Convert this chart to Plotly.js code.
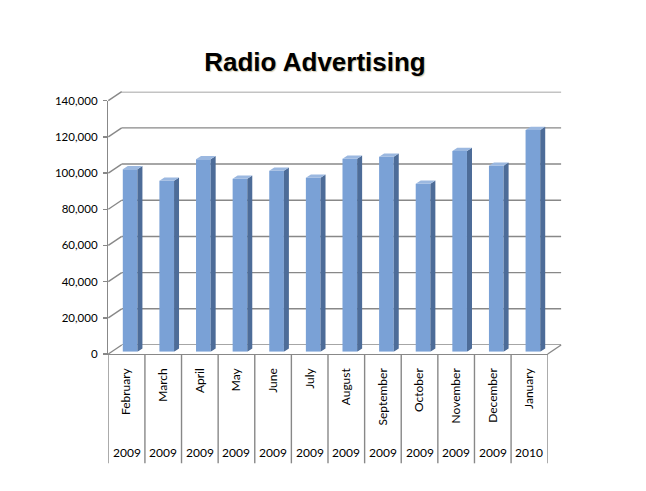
<!DOCTYPE html>
<html>
<head>
<meta charset="utf-8">
<script src="https://cdn.plot.ly/plotly-3.0.1.min.js"></script>
<style>html,body{margin:0;padding:0;background:#fff;}#chart{width:646px;height:491px;}</style>
</head>
<body>
<div id="chart"></div>
<script>
// ---- data ----
const months = ['February','March','April','May','June','July','August','September','October','November','December','January'];
const years = ['2009','2009','2009','2009','2009','2009','2009','2009','2009','2009','2009','2010'];
const advertising = [100800, 94500, 106300, 95600, 100000, 96100, 106600, 107700, 92800, 110900, 102800, 122500];
const yTicks = [0, 20000, 40000, 60000, 80000, 100000, 120000, 140000];

// ---- geometry (pixels) ----
const W = 646, H = 491;
const YMAX = 140000;
const S = 253.3 / YMAX;          // px per value unit
const FL = 108.3, FR = 547.7, F0 = 354;   // front plane
const DXB = 13.4, DYB = 9;       // depth offset of back wall
const BX = 3.5, BY = 2.3;        // depth offset of bar front faces
const DIV_BOTTOM = 463.3;
const fx = p => p / W;
const fy = p => 1 - p / H;
const idx = months.map((m, i) => i);

const GRID = '#888888';
const FRONT = '#7aa1d6', SIDE = '#4d6c98', TOP = '#9bb8e0';

// bar depth faces (in bar-axis units)
const bw = 0.40;
const sdx = 5 / ((FR - FL) / months.length);
const sdy = 3.3 / S;
const sideX = [], sideY = [], topX = [], topY = [];
advertising.forEach((v, i) => {
  const r = i + bw / 2, l = i - bw / 2;
  sideX.push(r, r + sdx, r + sdx, r, r, null);
  sideY.push(0, sdy, v + sdy, v, 0, null);
  topX.push(l, r, r + sdx, l + sdx, l, null);
  topY.push(v, v, v + sdy, v + sdy, v, null);
});

const traces = [
  {type: 'bar', x: idx, y: advertising, width: bw, xaxis: 'x3', yaxis: 'y3',
   marker: {color: FRONT, line: {width: 0}}, hoverinfo: 'skip'},
  {type: 'scatter', mode: 'lines', x: sideX, y: sideY, xaxis: 'x3', yaxis: 'y3',
   fill: 'toself', fillcolor: SIDE, line: {width: 0, color: SIDE}, hoverinfo: 'skip'},
  {type: 'scatter', mode: 'lines', x: topX, y: topY, xaxis: 'x3', yaxis: 'y3',
   fill: 'toself', fillcolor: TOP, line: {width: 0, color: TOP}, hoverinfo: 'skip'},
  {type: 'scatter', x: [], y: [], xaxis: 'x', yaxis: 'y', hoverinfo: 'skip'},
  {type: 'scatter', x: [], y: [], xaxis: 'x2', yaxis: 'y2', hoverinfo: 'skip'},
  {type: 'scatter', x: [], y: [], xaxis: 'x4', yaxis: 'y4', hoverinfo: 'skip'}
];

const gridLine = {color: GRID, width: 1.4};
const shapes = [];
// back wall gridlines
yTicks.forEach(v => shapes.push({
  type: 'line', layer: 'below', xref: 'paper', yref: 'y',
  x0: fx(FL + DXB), x1: fx(FR + DXB), y0: v, y1: v, line: gridLine
}));
// left wall diagonals
yTicks.forEach(v => shapes.push({
  type: 'line', layer: 'below', xref: 'paper', yref: 'paper',
  x0: fx(FL), y0: fy(F0 - v * S), x1: fx(FL + DXB), y1: fy(F0 - DYB - v * S), line: gridLine
}));
// right floor edge
shapes.push({type: 'line', layer: 'below', xref: 'paper', yref: 'paper',
  x0: fx(FR), y0: fy(F0), x1: fx(FR + DXB), y1: fy(F0 - DYB), line: gridLine});
// category dividers below the floor
idx.concat([months.length]).forEach(i => shapes.push({
  type: 'line', layer: 'below', xref: 'x4', yref: 'paper',
  x0: i - 0.5, x1: i - 0.5, y0: fy(F0), y1: fy(DIV_BOTTOM), line: gridLine
}));

const annotations = years.map((y, i) => ({
  xref: 'x4', yref: 'paper', x: i, y: fy(452.7), text: y, showarrow: false,
  xanchor: 'center', yanchor: 'middle',
  font: {family: 'Lato, sans-serif', size: 12, color: '#000'}
}));

const layout = {
  width: W, height: H,
  margin: {l: 0, r: 0, t: 0, b: 0},
  paper_bgcolor: '#fff', plot_bgcolor: 'rgba(0,0,0,0)',
  showlegend: false,
  title: {text: 'Radio Advertising', x: fx(315), xanchor: 'center', y: fy(62), yanchor: 'middle',
          font: {family: 'Liberation Sans, Arial, sans-serif', size: 26, color: '#000', weight: 'bold',
                 shadow: '1px 1px 1px rgba(150,130,70,0.45)'}},
  xaxis: {domain: [fx(FL + DXB), fx(FR + DXB)], range: [-0.5, 11.5], anchor: 'y', visible: false},
  yaxis: {domain: [fy(F0 - DYB), fy(F0 - DYB - YMAX * S)], range: [0, YMAX], anchor: 'x', visible: false},
  // front plane: value axis and month labels
  xaxis2: {domain: [fx(FL), fx(FR)], range: [-0.5, 11.5], anchor: 'y2',
           tickmode: 'array', tickvals: idx, ticktext: months, tickangle: -90, ticks: '',
           showline: true, linecolor: GRID, linewidth: 1.4, showgrid: false, zeroline: false,
           ticklabelstandoff: 8,
           tickfont: {family: 'Lato, sans-serif', size: 12, color: '#000'}},
  yaxis2: {domain: [fy(F0), fy(F0 - YMAX * S)], range: [0, YMAX], anchor: 'x2',
           tickvals: yTicks, tickformat: ',', ticks: 'outside', ticklen: 4, tickcolor: GRID, tickwidth: 1.4,
           showline: true, linecolor: GRID, linewidth: 1.4, showgrid: false, zeroline: false,
           ticklabelstandoff: 3,
           tickfont: {family: 'Lato, sans-serif', size: 11.5, color: '#000'}},
  // bars
  xaxis3: {domain: [fx(FL + BX), fx(FR + BX)], range: [-0.5, 11.5], anchor: 'y3', visible: false},
  yaxis3: {domain: [fy(F0 - BY), fy(F0 - BY - YMAX * S)], range: [0, YMAX], anchor: 'x3', visible: false},
  // category label band
  xaxis4: {domain: [fx(FL), fx(FR)], range: [-0.5, 11.5], anchor: 'y4', visible: false},
  yaxis4: {domain: [fy(DIV_BOTTOM), fy(F0)], range: [0, 1], anchor: 'x4', visible: false},
  shapes: shapes,
  annotations: annotations
};

Plotly.newPlot('chart', traces, layout, {displayModeBar: false, staticPlot: true});
</script>
</body>
</html>
